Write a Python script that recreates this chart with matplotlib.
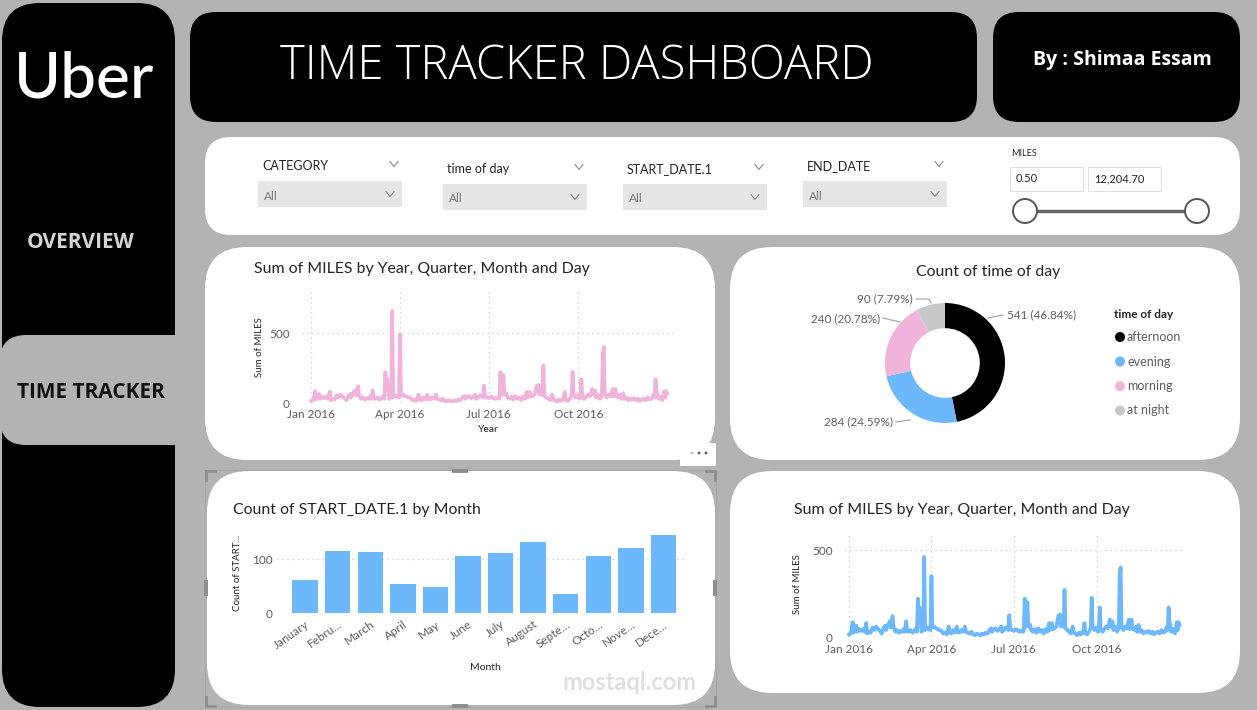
import matplotlib
matplotlib.use("Agg")
import matplotlib.pyplot as plt
import matplotlib.transforms as mtransforms
from matplotlib.patches import FancyBboxPatch, Rectangle, Circle

plt.rcParams['font.family'] = ['Lato', 'DejaVu Sans']

# ---------------- data ----------------
month_labels = ['January', 'Febru…', 'March', 'April', 'May', 'June', 'July',
                'August', 'Septe…', 'Octo…', 'Nove…', 'Dece…']
trip_counts = [61, 115, 113, 54, 49, 107, 112, 133, 36, 106, 122, 146]

time_of_day = ['afternoon', 'evening', 'morning', 'at night']
time_counts = [541, 284, 240, 90]
time_colors = ['#000000', '#6CB8FA', '#F0B3DB', '#C8C8C8']

quarter_ticks = [0, 91, 182, 274]
quarter_labels = ['Jan 2016', 'Apr 2016', 'Jul 2016', 'Oct 2016']

day_of_year = [
    0, 2, 4, 5, 6, 8, 9, 11, 13, 15, 17, 19, 20, 22, 24, 26, 28, 30, 32, 34, 36, 38, 40, 41, 43, 45, 46, 47, 48, 49,
    51, 53, 55, 57, 59, 61, 62, 63, 64, 66, 68, 70, 72, 74, 75, 76, 77, 78, 80, 82, 83, 84, 86, 88, 90, 91, 92, 94, 96, 98,
    100, 102, 104, 106, 108, 110, 111, 113, 115, 117, 119, 120, 122, 124, 126, 128, 129, 131, 133, 135, 137, 139, 141, 143, 145, 147, 149, 151, 153, 155,
    157, 158, 160, 162, 164, 166, 168, 169, 171, 173, 175, 176, 177, 178, 180, 182, 184, 186, 188, 190, 192, 193, 194, 195, 197, 198, 200, 201, 203, 205,
    207, 209, 211, 213, 215, 217, 219, 221, 222, 224, 225, 227, 229, 231, 233, 234, 236, 237, 238, 239, 241, 243, 245, 247, 248, 250, 252, 254, 256, 258,
    259, 260, 261, 263, 265, 267, 268, 269, 271, 273, 275, 276, 277, 278, 280, 282, 284, 286, 288, 289, 291, 292, 294, 296, 298, 299, 300, 301, 303, 305,
    307, 309, 310, 312, 313, 315, 317, 318, 320, 321, 323, 325, 327, 329, 331, 333, 335, 337, 339, 341, 343, 345, 347, 349, 351, 352, 353, 354, 356, 358,
    360, 362, 363, 364, 365]

miles_pink = [
    15, 20, 85, 25, 45, 65, 30, 45, 35, 45, 30, 80, 20, 30, 25, 55, 40, 60, 45, 35, 20, 50, 65, 40, 70, 90, 55, 60, 120, 60,
    30, 40, 25, 35, 30, 50, 30, 90, 40, 30, 40, 25, 35, 50, 30, 220, 140, 170, 30, 50, 660, 40, 55, 45, 40, 490, 55, 60, 50, 45,
    40, 35, 20, 25, 15, 60, 30, 20, 40, 25, 60, 30, 25, 40, 30, 60, 30, 25, 20, 30, 15, 10, 20, 15, 10, 20, 15, 25, 20, 40,
    50, 30, 45, 50, 35, 45, 60, 30, 40, 55, 45, 40, 125, 50, 40, 35, 45, 40, 30, 35, 30, 35, 220, 60, 200, 60, 70, 40, 30, 45,
    25, 50, 30, 40, 20, 45, 30, 80, 40, 80, 45, 50, 60, 120, 130, 60, 80, 60, 270, 50, 40, 30, 20, 60, 30, 20, 10, 25, 15, 30,
    25, 80, 20, 15, 30, 50, 225, 60, 40, 55, 30, 40, 170, 40, 30, 45, 60, 50, 100, 60, 90, 40, 60, 30, 50, 360, 400, 60, 40, 60,
    50, 100, 45, 100, 50, 40, 60, 30, 70, 30, 40, 20, 30, 25, 35, 20, 30, 15, 25, 30, 20, 40, 25, 30, 60, 40, 170, 90, 30, 45,
    20, 85, 40, 85, 70]

miles_blue = [
    15, 20, 85, 25, 45, 65, 30, 45, 35, 45, 30, 80, 20, 30, 25, 55, 40, 60, 45, 35, 20, 50, 65, 40, 70, 90, 55, 60, 120, 60,
    30, 40, 25, 35, 30, 50, 30, 90, 40, 30, 40, 25, 35, 50, 30, 220, 140, 170, 30, 50, 460, 40, 55, 45, 40, 350, 55, 60, 50, 45,
    40, 35, 20, 25, 15, 60, 30, 20, 40, 25, 60, 30, 25, 40, 30, 60, 30, 25, 20, 30, 15, 10, 20, 15, 10, 20, 15, 25, 20, 40,
    50, 30, 45, 50, 35, 45, 60, 30, 40, 55, 45, 40, 125, 50, 40, 35, 45, 40, 30, 35, 30, 35, 220, 60, 200, 60, 70, 40, 30, 45,
    25, 50, 30, 40, 20, 45, 30, 80, 40, 80, 45, 50, 60, 120, 130, 60, 80, 60, 270, 50, 40, 30, 20, 60, 30, 20, 10, 25, 15, 30,
    25, 80, 20, 15, 30, 50, 225, 60, 40, 55, 30, 40, 170, 40, 30, 45, 60, 50, 100, 60, 90, 40, 60, 30, 50, 360, 400, 60, 40, 60,
    50, 100, 45, 100, 50, 40, 60, 30, 70, 30, 40, 20, 30, 25, 35, 20, 30, 15, 25, 30, 20, 40, 25, 30, 60, 40, 170, 90, 30, 45,
    20, 85, 40, 85, 70]

slicer_titles = ['CATEGORY', 'time of day', 'START_DATE.1', 'END_DATE']
slicer_value = 'All'
miles_range = ['0.50', '12,204.70']

# ---------------- styles ----------------
W, H = 1257, 710
BG = '#B3B3B3'
TITLE = '#252423'
TICK = '#605e5c'
GRID = '#c8c8c8'
PINK = '#F0B3DB'
BLUE = '#6CB8FA'
TFS = 11.4  # visual title size

fig = plt.figure(figsize=(W / 100, H / 100), dpi=100)
fig.patch.set_facecolor(BG)
bg = fig.add_axes([0, 0, 1, 1])
bg.set_xlim(0, W)
bg.set_ylim(H, 0)
bg.axis('off')


def rbox(x0, y0, x1, y1, r, fc, ec='none', lw=0, z=1):
    p = FancyBboxPatch((x0, y0), x1 - x0, y1 - y0,
                       boxstyle=f"round,pad=0,rounding_size={r}",
                       fc=fc, ec=ec, lw=lw, zorder=z)
    bg.add_patch(p)


def pax(l, t, r, b):
    ax = fig.add_axes([l / W, 1 - b / H, (r - l) / W, (b - t) / H])
    ax.set_facecolor('none')
    return ax


def chevron(cx, cy, w=8, h=5, color='#8a8a8a'):
    bg.plot([cx - w / 2, cx, cx + w / 2], [cy - h / 2, cy + h / 2, cy - h / 2],
            color=color, lw=0.8, zorder=5)


# ---------------- sidebar ----------------
rbox(2, 3, 175, 707, 38, '#000000')
rbox(0, 335, 200, 445, 26, BG, z=2)
bg.text(84, 97, 'Uber', color='white', fontsize=46, weight='medium',
        family=['Lato', 'DejaVu Sans'], ha='center', va='baseline', zorder=3)
bg.text(81, 242, 'OVERVIEW', color='#d4d4d4', fontsize=15, weight='bold',
        family=['Open Sans', 'DejaVu Sans'], ha='center', va='center', zorder=3)
bg.text(91, 392, 'TIME TRACKER', color='#111111', fontsize=15, weight='bold',
        family=['Open Sans', 'DejaVu Sans'], ha='center', va='center', zorder=3)

# ---------------- header ----------------
rbox(190, 12, 977, 122, 26, '#000000')
bg.text(577, 67, 'TIME TRACKER DASHBOARD', color='white', fontsize=34,
        family=['Open Sans', 'DejaVu Sans'], weight='light', ha='center', va='center',
        zorder=3)
rbox(993, 12, 1240, 122, 26, '#000000')
bg.text(1122, 60, 'By : Shimaa Essam', color='white', fontsize=14, weight='bold',
        family=['Open Sans', 'DejaVu Sans'], ha='center', va='center', zorder=3)

# ---------------- filter panel ----------------
rbox(205, 137, 1240, 235, 26, 'white')
slicer_x = [258, 443, 623, 803]
slicer_head_y = [166, 169, 169, 166]
slicer_box_y = [181, 184, 184, 181]
for x0, hy, by, t in zip(slicer_x, slicer_head_y, slicer_box_y, slicer_titles):
    bg.text(x0 + 4, hy, t, color=TITLE, fontsize=9, ha='left', va='center', zorder=5)
    chevron(x0 + 136, hy - 2)
    bg.add_patch(Rectangle((x0, by), 144, 26, fc='#e6e6e6', ec='none', zorder=4))
    bg.text(x0 + 6, by + 15, slicer_value, color='#7a7a7a', fontsize=8.5,
            ha='left', va='center', zorder=5)
    chevron(x0 + 132, by + 13)

bg.text(1011, 154, 'MILES', color=TITLE, fontsize=6.5, ha='left', va='center', zorder=5)
for bx, val in zip([1010, 1088], miles_range):
    bg.add_patch(Rectangle((bx, 167), 73, 24, fc='white', ec='#e1e1e1', lw=0.8, zorder=4))
    bg.text(bx + 6, 179, val, color=TITLE, fontsize=8, ha='left', va='center', zorder=5)
bg.plot([1025, 1197], [211, 211], color='#666666', lw=2.5, zorder=4,
        solid_capstyle='butt')
for cx in [1025, 1197]:
    bg.add_patch(Circle((cx, 211), 12, fc='white', ec='#555555', lw=1.4, zorder=5))

# ---------------- chart panels ----------------
rbox(205, 247, 715, 460, 42, 'white')
rbox(730, 247, 1240, 460, 42, 'white')
rbox(207, 471, 715, 705, 42, 'white')
rbox(730, 471, 1240, 693, 42, 'white')

# selection frame around the bar chart
bg.add_patch(Rectangle((205, 470), 511, 237, fc='none', ec='#a8a8a8', lw=0.8, zorder=6))
for (cx, cy, dx, dy) in [(206, 471, 1, 1), (715, 471, -1, 1), (206, 706, 1, -1), (715, 706, -1, -1)]:
    bg.plot([cx, cx + 9 * dx], [cy, cy], color='#8e8e8e', lw=2, zorder=7)
    bg.plot([cx, cx], [cy, cy + 9 * dy], color='#8e8e8e', lw=2, zorder=7)
for (x, y, w, h) in [(452, 469, 16, 4), (452, 704, 16, 4), (204, 580, 4, 16), (713, 580, 4, 16)]:
    bg.add_patch(Rectangle((x, y), w, h, fc='#8e8e8e', ec='none', zorder=7))

# "..." menu
bg.add_patch(Rectangle((680, 443), 36, 23, fc='white', ec='none', zorder=6))
for dx, c in zip([692, 699, 706], ['#c0c0c0', '#605e5c', '#605e5c']):
    bg.add_patch(Circle((dx, 453), 1.4, fc=c, ec='none', zorder=7))

# ---------------- line chart helper ----------------
def line_chart(ax, values, color, ytop, xl, xr, pady, padx):
    ax.plot(day_of_year, values, color=color, lw=2.7, solid_joinstyle='round', zorder=3)
    ax.set_xlim(xl, xr)
    ax.set_ylim(0, ytop)
    ax.set_yticks([0, 500])
    ax.set_xticks(quarter_ticks)
    ax.set_xticklabels(quarter_labels)
    ax.grid(True, ls=(0, (1, 3)), color=GRID, lw=0.9, zorder=0)
    for s in ax.spines.values():
        s.set_visible(False)
    ax.tick_params(axis='y', length=0, labelsize=8.5, labelcolor=TICK, pad=pady)
    ax.tick_params(axis='x', length=0, labelsize=8.5, labelcolor=TICK, pad=padx)


# top-left line chart
bg.text(254, 269, 'Sum of MILES by Year, Quarter, Month and Day', color=TITLE,
        fontsize=TFS, ha='left', va='center', zorder=5)
ax1 = pax(302, 290, 675, 403)
line_chart(ax1, miles_pink, PINK, 810, -9.5, 373, 9, 4)
bg.text(260, 347, 'Sum of MILES', rotation=90, color=TITLE, fontsize=7,
        ha='center', va='center', zorder=5)
bg.text(488, 430, 'Year', color=TITLE, fontsize=7.5, ha='center', va='center', zorder=5)

# bottom-right line chart
bg.text(794, 510, 'Sum of MILES by Year, Quarter, Month and Day', color=TITLE,
        fontsize=TFS, ha='left', va='center', zorder=5)
ax4 = pax(845, 533, 1184, 637)
line_chart(ax4, miles_blue, BLUE, 598, -4.5, 370, 9, 5)
bg.text(798, 584, 'Sum of MILES', rotation=90, color=TITLE, fontsize=7,
        ha='center', va='center', zorder=5)

# ---------------- bar chart ----------------
bg.text(233, 510, 'Count of START_DATE.1 by Month', color=TITLE, fontsize=TFS,
        ha='left', va='center', zorder=5)
ax2 = pax(277, 530, 687, 613)
xs = list(range(len(trip_counts)))
ax2.bar(xs, trip_counts, width=0.78, color=BLUE, zorder=3)
ax2.set_xlim(-0.86, 11.72)
ax2.set_ylim(0, 155)
ax2.set_yticks([0, 100])
ax2.set_xticks(xs)
ax2.set_xticklabels(month_labels, rotation=35, ha='right', rotation_mode='anchor')
shift = mtransforms.ScaledTranslation(-4 / 100, 0, fig.dpi_scale_trans)
for lbl in ax2.get_xticklabels():
    lbl.set_transform(lbl.get_transform() + shift)
ax2.yaxis.grid(True, ls=(0, (1, 3)), color=GRID, lw=0.9, zorder=0)
for s in ax2.spines.values():
    s.set_visible(False)
ax2.tick_params(axis='y', length=0, labelsize=8.5, labelcolor=TICK, pad=3)
ax2.tick_params(axis='x', length=0, labelsize=8.5, labelcolor=TICK, pad=4)
bg.text(238, 573, 'Count of START...', rotation=90, color=TITLE, fontsize=7,
        ha='center', va='center', zorder=5)
bg.text(485, 667, 'Month', color=TITLE, fontsize=7.5, ha='center', va='center', zorder=5)

# watermark
bg.text(629, 683, 'mostaql.com', color='#dcdcdc', fontsize=17, weight='bold',
        ha='center', va='center', zorder=8, alpha=0.9)

# ---------------- donut ----------------
bg.text(988, 272, 'Count of time of day', color=TITLE, fontsize=TFS,
        ha='center', va='center', zorder=5)
ax3 = pax(825, 243, 1065, 483)
ax3.pie(time_counts, colors=time_colors, startangle=90, counterclock=False,
        radius=1, wedgeprops=dict(width=0.42, edgecolor='none'))
ax3.set_xlim(-2, 2)
ax3.set_ylim(-2, 2)
ax3.axis('off')

total = sum(time_counts)
label_pos = [(1007, 315, 'left'), (893, 422, 'right'), (880, 319, 'right'), (913, 299, 'right')]
leader = [([988, 1003], [318, 315]), ([896, 910], [422, 420]),
          ([883, 900], [318, 322]), ([916, 929, 931], [299, 299, 303])]
for v, (lx, ly, ha), (lxs, lys) in zip(time_counts, label_pos, leader):
    bg.text(lx, ly, f"{v} ({v / total * 100:.2f}%)", color=TICK, fontsize=8.5,
            ha=ha, va='center', zorder=5)
    bg.plot(lxs, lys, color='#a0a0a0', lw=0.8, zorder=5)

bg.text(1114, 314, 'time of day', color=TITLE, fontsize=8.5, weight='bold',
        ha='left', va='center', zorder=5)
for i, (name, c) in enumerate(zip(time_of_day, time_colors)):
    y = 337 + i * 24.5
    bg.add_patch(Circle((1120, y), 5, fc=c, ec='none', zorder=5))
    bg.text(1127, y, name, color=TICK, fontsize=9, ha='left', va='center', zorder=5)

fig.savefig('out.png', dpi=100, facecolor=BG)
